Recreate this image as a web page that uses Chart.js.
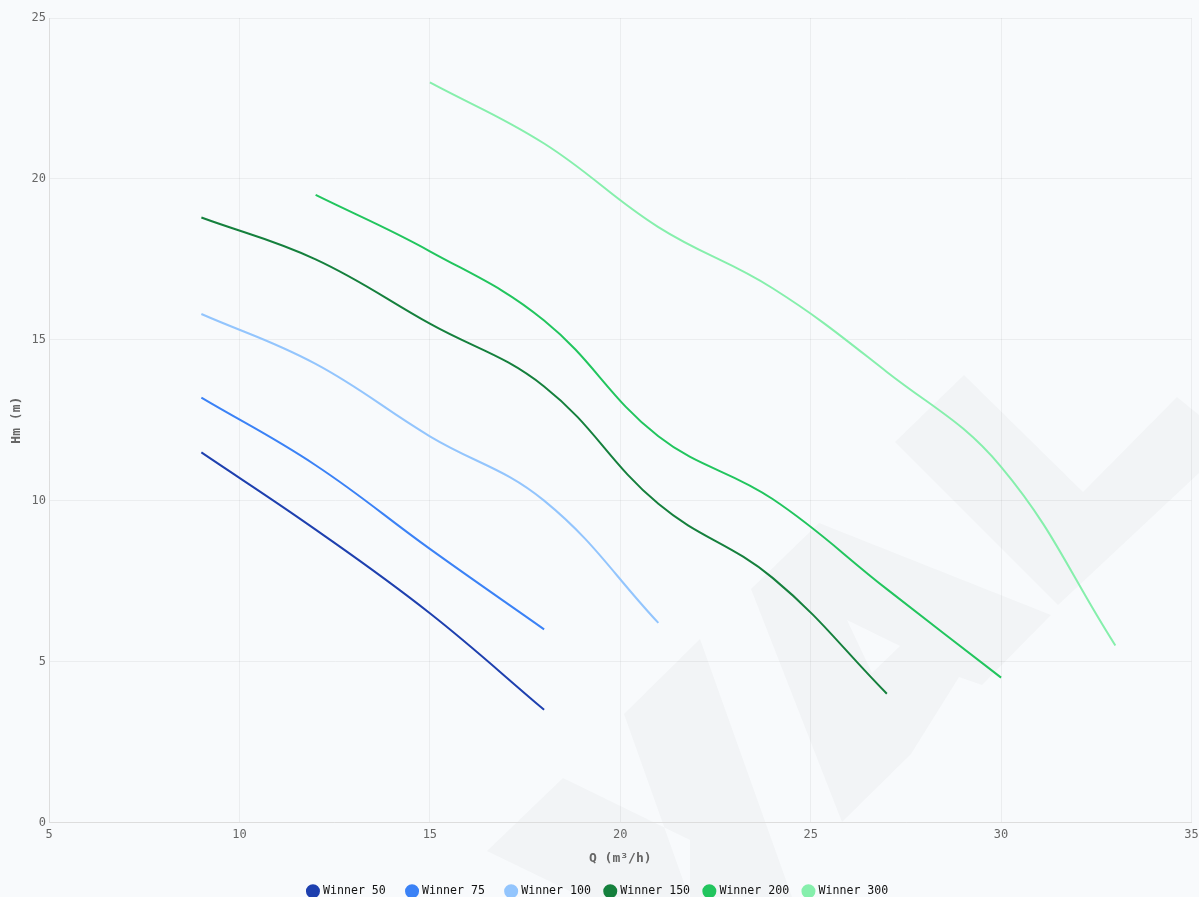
<!DOCTYPE html>
<html>
<head>
<meta charset="utf-8">
<script src="https://cdn.jsdelivr.net/npm/chart.js@4.4.1/dist/chart.umd.min.js"></script>
<style>
  html, body { margin: 0; padding: 0; background: #f8fafc; overflow: hidden; }
  #wrap { width: 1199px; height: 907px; position: relative; }
</style>
</head>
<body>
<div id="wrap"><canvas id="c"></canvas></div>
<script>
const seriesNames = ["Winner 50", "Winner 75", "Winner 100", "Winner 150", "Winner 200", "Winner 300"];
const seriesColors = ["#1e40af", "#3b82f6", "#93c5fd", "#15803d", "#22c55e", "#86efac"];

const q50  = [9, 12, 15, 18];
const h50  = [11.5, 9.1, 6.5, 3.5];
const q75  = [9, 12, 15, 18];
const h75  = [13.2, 11.1, 8.5, 6.0];
const q100 = [9, 12, 15, 18, 21];
const h100 = [15.8, 14.25, 12.0, 10.0, 6.2];
const q150 = [9, 12, 15, 18, 21, 24, 27];
const h150 = [18.8, 17.5, 15.5, 13.55, 9.9, 7.6, 4.0];
const q200 = [12, 15, 18, 21, 24, 27, 30];
const h200 = [19.5, 17.75, 15.6, 12.0, 10.05, 7.25, 4.5];
const q300 = [15, 18, 21, 24, 27, 30, 33];
const h300 = [23.0, 21.1, 18.5, 16.6, 14.0, 11.05, 5.5];

const qs = [q50, q75, q100, q150, q200, q300];
const hs = [h50, h75, h100, h150, h200, h300];

const xMin = 5, xMax = 35, xStep = 5;
const yMin = 0, yMax = 25, yStep = 5;

const mono = "'DejaVu Sans Mono', monospace";

// faint decorative background watermark (not data)
const watermarkShapes = [
  [[624,714],[700,639],[792,897],[689,897]],
  [[487,851],[563,778],[690,840],[690,897],[582,897]],
  [[751,589],[819,523],[1051,615],[982,685],[959,677],[911,754],[842,822]],
  [[895,442],[964,375],[1083,492],[1177,397],[1199,415],[1199,473],[1058,605]]
];
const watermarkHoles = [
  [[847,620],[900,646],[872,673]]
];
const watermarkPlugin = {
  id: 'watermark',
  beforeDraw(chart) {
    const ctx = chart.ctx;
    ctx.save();
    ctx.fillStyle = 'rgba(90,95,110,0.038)';
    ctx.beginPath();
    watermarkShapes.forEach(poly => {
      poly.forEach((p, i) => i ? ctx.lineTo(p[0], p[1]) : ctx.moveTo(p[0], p[1]));
      ctx.closePath();
    });
    watermarkHoles.forEach(poly => {
      poly.forEach((p, i) => i ? ctx.lineTo(p[0], p[1]) : ctx.moveTo(p[0], p[1]));
      ctx.closePath();
    });
    ctx.fill('evenodd');
    ctx.restore();
  }
};

const datasets = seriesNames.map((name, i) => ({
  label: name,
  data: qs[i].map((q, j) => ({ x: q, y: hs[i][j] })),
  borderColor: seriesColors[i],
  backgroundColor: seriesColors[i],
  borderWidth: 2,
  pointRadius: 0,
  pointHoverRadius: 0,
  tension: 0.4,
  fill: false
}));

new Chart(document.getElementById('c'), {
  type: 'line',
  data: { datasets },
  plugins: [watermarkPlugin],
  options: {
    responsive: true,
    maintainAspectRatio: false,
    animation: false,
    layout: { padding: { left: 5, right: 7, top: 18 } },
    plugins: {
      legend: {
        position: 'bottom',
        labels: {
          usePointStyle: true,
          pointStyle: 'circle',
          boxWidth: 8.5,
          boxHeight: 8.5,
          padding: 15,
          color: '#111',
          font: { family: mono, size: 11.6 },
          generateLabels(chart) {
            const items = Chart.defaults.plugins.legend.labels.generateLabels(chart);
            const maxLen = Math.max(...items.map(it => it.text.length));
            items.forEach(it => { it.text = it.text.padEnd(maxLen, ' '); });
            return items;
          }
        }
      },
      tooltip: { enabled: false }
    },
    scales: {
      x: {
        type: 'linear',
        min: xMin, max: xMax,
        afterFit(scale) { scale.paddingRight = 7.5; },
        ticks: { stepSize: xStep, color: '#666', padding: 5, font: { family: mono, size: 12 } },
        grid: { color: 'rgba(0,0,0,0.05)', drawTicks: false },
        border: { color: '#ddd' },
        title: { display: true, text: 'Q (m³/h)', color: '#666', padding: { top: 4, bottom: 4 }, font: { family: mono, size: 13, weight: 'bold' } }
      },
      y: {
        min: yMin, max: yMax,
        ticks: { stepSize: yStep, color: '#666', padding: 3, font: { family: mono, size: 12 } },
        grid: { color: 'rgba(0,0,0,0.05)', drawTicks: false },
        border: { color: '#ddd' },
        title: { display: true, text: 'Hm (m)', color: '#666', font: { family: mono, size: 13, weight: 'bold' } }
      }
    }
  }
});
</script>
</body>
</html>
